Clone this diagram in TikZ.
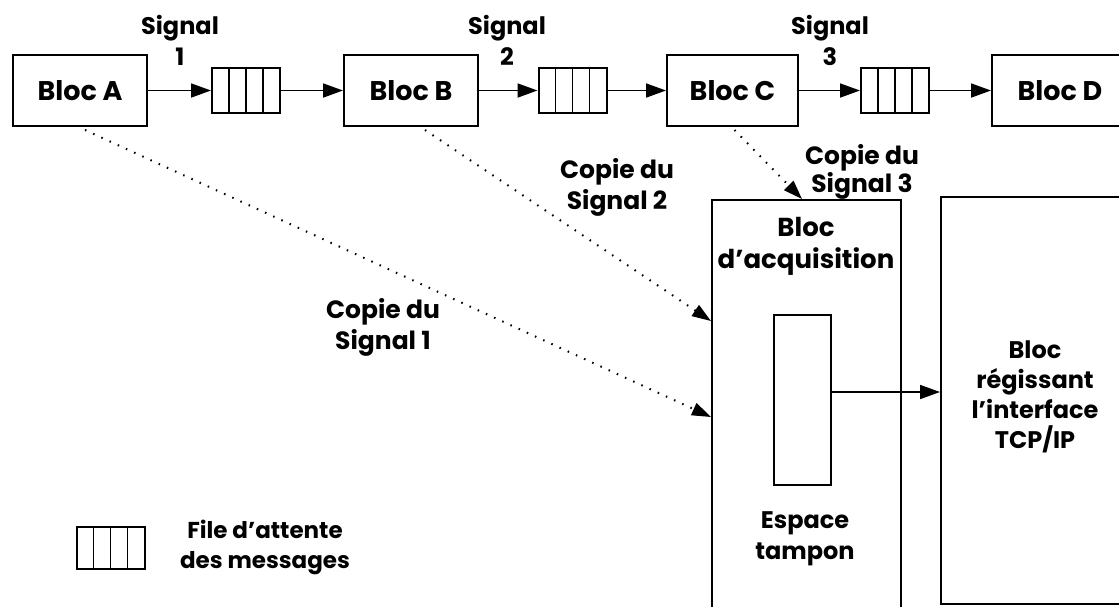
\documentclass[tikz,border=0pt]{standalone}
\usepackage{fontspec}
\setmainfont{Poppins}
\usetikzlibrary{arrows.meta, positioning, calc}

\tikzset{
  bloc/.style={draw, line width=2pt, minimum width=134pt, minimum height=71pt,
    inner sep=0pt, font=\fontsize{27}{30}\selectfont\bfseries},
  msgqueue/.style={draw, line width=2pt, minimum width=68pt, minimum height=45pt, inner sep=0pt,
    path picture={
      \foreach \k in {1,2,3}
        \draw[line width=1.6pt]
          ($(path picture bounding box.south west)!\k/4!(path picture bounding box.south east)$) --
          ($(path picture bounding box.north west)!\k/4!(path picture bounding box.north east)$);
    }},
  lbl/.style={align=center, inner sep=0pt, font=\fontsize{24}{31}\selectfont\bfseries},
  flow/.style={line width=1.8pt, -{Triangle[length=20pt, width=14pt]}},
  copie/.style={line width=2pt, dash pattern=on 1.5pt off 7.5pt,
    -{Triangle[length=19pt, width=13pt]}}
}

\begin{document}
\begin{tikzpicture}[x=1pt, y=-1pt]
    \path[use as bounding box] (0,0) rectangle (1119,606);
    \clip (0,0) rectangle (1119,606);

    % Chain of blocs and message queues
    \node[bloc] (blocA) at (80,90.5) {Bloc A};
    \node[msgqueue] (file1) at (246,90.5) {};
    \node[bloc] (blocB) at (411,90.5) {Bloc B};
    \node[msgqueue] (file2) at (572.5,90.5) {};
    \node[bloc, minimum width=131pt] (blocC) at (732.5,90.5) {Bloc C};
    \node[msgqueue] (file3) at (895,90.5) {};
    \node[bloc, minimum width=136pt] (blocD) at (1060,90.5) {Bloc D};

    \draw[flow] (blocA) -- (file1);
    \draw[flow] (file1) -- (blocB);
    \draw[flow] (blocB) -- (file2);
    \draw[flow] (file2) -- (blocC);
    \draw[flow] (blocC) -- (file3);
    \draw[flow] (file3) -- (blocD);

    \node[lbl] (sig1) at (180,40) {Signal\\1};
    \node[lbl] (sig2) at (507,40) {Signal\\2};
    \node[lbl] (sig3) at (830,40) {Signal\\3};

    % Acquisition bloc (open at the bottom) and its buffer
    \node[draw, line width=2pt, minimum width=189pt, minimum height=440pt, inner sep=0pt]
      (acq) at (806.5,420) {};
    \node[lbl, font=\fontsize{26}{32}\selectfont\bfseries] (acqtxt) at (806,246)
      {Bloc\\d'acquisition};
    \node[draw, line width=2pt, minimum width=57pt, minimum height=170pt, inner sep=0pt]
      (tampon) at (802.5,400) {};
    \node[lbl] (tampontxt) at (805,539) {Espace\\tampon};

    % TCP/IP bloc
    \node[draw, line width=2pt, minimum width=188pt, minimum height=407pt, inner sep=0pt]
      (tcp) at (1035,400.5) {};
    \node[lbl, font=\fontsize{24}{30}\selectfont\bfseries] (tcptxt) at (1035,397)
      {Bloc\\régissant\\l'interface\\TCP/IP};

    \draw[flow] ([yshift=8pt]tampon.east) -- ([yshift=8pt]tampon.east -| tcp.west);

    % Copies of the signals
    \coordinate (in1) at ($(acq.north west)+(0,218)$);
    \coordinate (in2) at ($(acq.north west)+(0,122)$);
    \coordinate (in3) at ($(acq.north west)+(91,0)$);
    \draw[copie] ($(blocA.south)+(5,3)$) -- (in1);
    \draw[copie] ($(blocB.south)+(14,3)$) -- (in2);
    \draw[copie] ($(blocC.south)+(2,3)$) -- (in3);

    \node[lbl, font=\fontsize{25}{31}\selectfont\bfseries] (cop1) at (383,327) {Copie du\\Signal 1};
    \node[lbl, font=\fontsize{25}{31}\selectfont\bfseries] (cop2) at (617,187) {Copie du\\Signal 2};
    \node[lbl, font=\fontsize{25}{28}\selectfont\bfseries] (cop3) at (862,172) {Copie du\\Signal 3};

    % Legend
    \node[msgqueue, minimum height=42pt] (legfile) at (110.5,548) {};
    \node[lbl, font=\fontsize{23}{30}\selectfont\bfseries] (legtxt) at (265,547)
      {File d'attente\\des messages};
\end{tikzpicture}
\end{document}
